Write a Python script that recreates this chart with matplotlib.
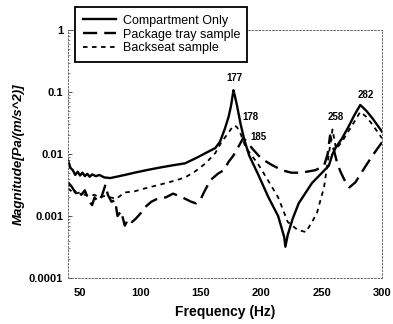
import matplotlib
matplotlib.use("Agg")
import matplotlib.pyplot as plt
from matplotlib.ticker import LogLocator, NullFormatter, FixedLocator

plt.rcParams['font.family'] = ['Liberation Sans', 'DejaVu Sans']

# Compartment Only (solid)
f_comp = [40, 42, 44, 46, 48, 50, 52, 54, 56, 58, 60, 63, 66, 70, 75, 80, 87, 95, 105, 115,
          125, 137, 147, 154, 162, 166, 170, 173, 175, 176, 177, 178, 180, 183, 186, 190, 197,
          206, 214, 219, 220, 222, 226, 231, 242, 256, 259, 262, 267, 272, 277, 282, 287, 292, 300]
v_comp = [0.008, 0.006, 0.0055, 0.0046, 0.0052, 0.0045, 0.005, 0.0044, 0.0048, 0.0043, 0.0047,
          0.0044, 0.0046, 0.0042, 0.0041, 0.0043, 0.0046, 0.005, 0.0055, 0.006, 0.0065, 0.0071,
          0.0088, 0.0104, 0.0125, 0.016, 0.026, 0.04, 0.06, 0.08, 0.107, 0.09, 0.06, 0.03, 0.017,
          0.0095, 0.0049, 0.002, 0.001, 0.00046, 0.00032, 0.0005, 0.0009, 0.0016, 0.0034, 0.0065,
          0.01, 0.013, 0.018, 0.027, 0.042, 0.062, 0.05, 0.038, 0.023]

# Package tray sample (dashed)
f_tray = [40, 43, 46, 48, 51, 54, 57, 60, 62, 65, 68, 71, 73, 76, 79, 81, 84, 87, 90, 93, 96,
          100, 104, 109, 114, 121, 127, 132, 137, 142, 146, 150, 153, 158, 164, 169, 173, 177,
          181, 185, 188, 193, 200, 208, 217, 225, 233, 245, 252, 255, 257, 260, 263, 266, 269,
          273, 278, 286, 293, 300]
v_tray = [0.0035, 0.003, 0.0024, 0.0027, 0.0022, 0.0026, 0.0018, 0.0015, 0.002, 0.0017, 0.0021,
          0.0032, 0.0022, 0.0017, 0.0018, 0.001, 0.0012, 0.0007, 0.0009, 0.0008, 0.0009, 0.0011,
          0.0014, 0.0017, 0.0019, 0.002, 0.0023, 0.0021, 0.0019, 0.0017, 0.0016, 0.0019, 0.0025,
          0.0038, 0.0048, 0.0055, 0.0075, 0.0095, 0.013, 0.018, 0.016, 0.012, 0.0085, 0.0068,
          0.0055, 0.005, 0.005, 0.0055, 0.0065, 0.01, 0.02, 0.012, 0.007, 0.005, 0.0038, 0.0029,
          0.0035, 0.0062, 0.01, 0.0155]

# Backseat sample (dotted)
f_back = [40, 43, 46, 50, 54, 58, 62, 66, 70, 75, 80, 87, 95, 104, 113, 121, 130, 137, 145,
          154, 162, 167, 172, 176, 178, 180, 183, 187, 192, 197, 207, 214, 222, 230, 237, 242,
          246, 252, 256, 259, 262, 267, 272, 277, 282, 287, 292, 300]
v_back = [0.0028, 0.0025, 0.0023, 0.0024, 0.0022, 0.0021, 0.0022, 0.002, 0.0021, 0.002, 0.0019,
          0.0024, 0.0025, 0.0028, 0.0031, 0.0034, 0.0038, 0.0042, 0.0052, 0.0071, 0.0104, 0.0155,
          0.021, 0.027, 0.029, 0.027, 0.021, 0.013, 0.0095, 0.0071, 0.0034, 0.002, 0.0008, 0.0006,
          0.00055, 0.0008, 0.0011, 0.0029, 0.01, 0.025, 0.012, 0.016, 0.023, 0.033, 0.048, 0.04,
          0.03, 0.018]

labels = ["Compartment Only", "Package tray sample", "Backseat sample"]
peak_text = ["177", "178", "185", "258", "282"]
peak_f = [178, 191, 198, 262, 287]
peak_v = [0.17, 0.0395, 0.0188, 0.0395, 0.0896]

x_ticks = [50, 100, 150, 200, 250, 300]
y_ticks = [0.0001, 0.001, 0.01, 0.1, 1]
y_tick_labels = ["0.0001", "0.001", "0.01", "0.1", "1"]

fig = plt.figure(figsize=(3.93, 3.24), dpi=100)
ax = fig.add_axes([0.173, 0.142, 0.799, 0.765])

l1, = ax.plot(f_comp, v_comp, color='black', lw=1.7, linestyle='-')
l2, = ax.plot(f_tray, v_tray, color='black', lw=1.7, linestyle=(0, (6, 3)))
l3, = ax.plot(f_back, v_back, color='black', lw=1.3, linestyle=(0, (2.5, 2.5)))

ax.set_yscale('log')
ax.set_xlim(40, 300)
ax.set_ylim(0.0001, 1)
ax.xaxis.set_major_locator(FixedLocator(x_ticks))
ax.yaxis.set_major_locator(FixedLocator(y_ticks))
ax.set_yticklabels(y_tick_labels)
ax.yaxis.set_minor_locator(LogLocator(base=10, subs=range(2, 10), numticks=20))
ax.yaxis.set_minor_formatter(NullFormatter())
ax.tick_params(axis='both', which='major', labelsize=8, direction='in', length=3,
               width=0.6, colors='#333333', labelcolor='black')
ax.tick_params(axis='y', which='minor', direction='in', length=1.5, width=0.5, colors='#555555')
ax.tick_params(axis='x', which='major', length=0, pad=7)
for lab in ax.get_xticklabels() + ax.get_yticklabels():
    lab.set_fontweight('bold')

for s in ax.spines.values():
    s.set_color('#666666')
    s.set_linewidth(0.7)
    s.set_linestyle((0, (1.5, 2)))

for t, fx, vy in zip(peak_text, peak_f, peak_v):
    ax.text(fx, vy, t, ha='center', va='center', fontsize=7, fontweight='bold')

ax.set_xlabel("Frequency (Hz)", fontsize=10, fontweight='bold', labelpad=5)
ax.set_ylabel("Magnitude[Pa/(m/s^2)]", fontsize=9.5, fontweight='bold', style='italic',
              labelpad=3)

leg = fig.legend([l1, l2, l3], labels, loc='upper left', bbox_to_anchor=(0.191, 0.978),
                 fontsize=9, frameon=True, fancybox=False, handlelength=2.7,
                 borderpad=0.6, labelspacing=0.15, handletextpad=0.5, borderaxespad=0)
leg.get_frame().set_edgecolor('black')
leg.get_frame().set_linewidth(1.3)
leg.get_frame().set_alpha(1)

fig.savefig("out.png", dpi=100)
